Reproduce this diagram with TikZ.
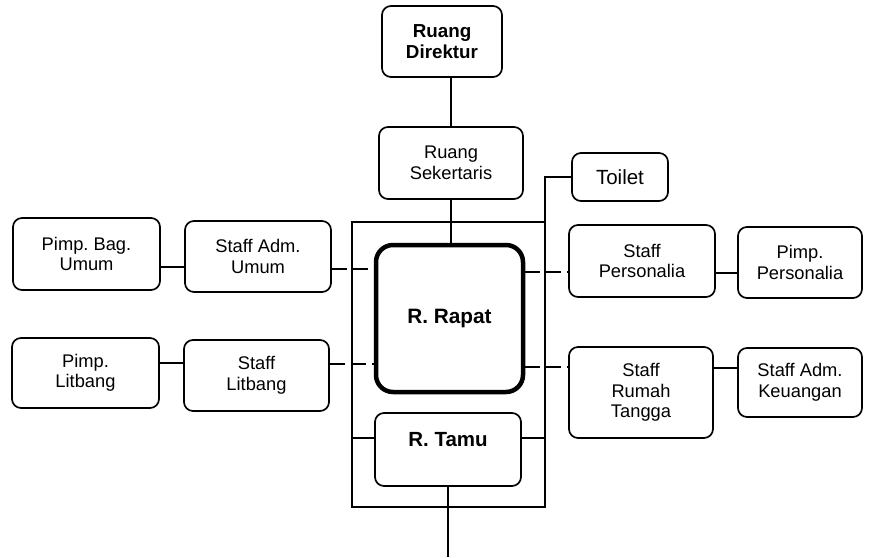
\documentclass[tikz,border=0pt]{standalone}
\usepackage{fontspec}
\setmainfont{Liberation Sans}
\usetikzlibrary{calc}
\frenchspacing
\begin{document}
\begin{tikzpicture}[x=1pt,y=-1pt,
  room/.style={draw=black,line width=1.7pt,rounded corners=9pt,align=center,
    inner sep=0pt,font=\fontsize{18.3}{20.5}\selectfont},
  bigroom/.style={room,line width=4.5pt,rounded corners=17pt},
  link/.style={line width=1.7pt},
  dlink/.style={line width=1.7pt,dash pattern=on 15pt off 6pt},
  boldtxt/.style={font=\fontsize{20.5}{23}\selectfont\bfseries}]
\useasboundingbox (0,0) rectangle (875,557);
% nodes
\node[room,minimum width=120pt,minimum height=71pt,font=\fontsize{18.8}{21}\selectfont\bfseries] (dir) at (442,41.5) {Ruang\\Direktur};
\node[room,minimum width=144pt,minimum height=72pt] (sek) at (451,163) {Ruang\\Sekertaris};
\node[room,minimum width=96pt,minimum height=48pt,font=\fontsize{20.5}{22}\selectfont] (toilet) at (620,177) {Toilet};
\node[room,minimum width=147pt,minimum height=72pt] (pbu) at (86.5,254) {Pimp. Bag.\\Umum};
\node[room,minimum width=146pt,minimum height=71pt] (sau) at (258,256.5) {Staff Adm.\\Umum};
\node[room,minimum width=146pt,minimum height=72pt] (sp) at (642,261) {Staff\\Personalia};
\node[room,minimum width=124pt,minimum height=71pt] (pp) at (800,262.5) {Pimp.\\Personalia};
\node[bigroom,minimum width=147pt,minimum height=147pt,font=\fontsize{20.8}{23}\selectfont\bfseries] (rapat) at (449.5,318.5) {R. Rapat};
\node[room,minimum width=147pt,minimum height=70pt] (pl) at (85.5,373) {Pimp.\\Litbang};
\node[room,minimum width=145pt,minimum height=71pt] (sl) at (256.5,375.5) {Staff\\Litbang};
\node[room,minimum width=144pt,minimum height=91pt] (srt) at (641,392.5) {Staff\\Rumah\\Tangga};
\node[room,minimum width=124pt,minimum height=69pt] (sak) at (800,382.5) {Staff Adm.\\Keuangan};
\node[room,minimum width=146pt,minimum height=73pt] (tamu) at (448,449.5) {};
\node[boldtxt] (tamutxt) at (448,440) {R. Tamu};
% frame coordinates
\coordinate (ftl) at (352,222);
\coordinate (ftr) at (545,222);
\coordinate (fbr) at (545,507);
\coordinate (fbl) at (352,507);
\coordinate (yT) at (0,177);
\coordinate (yA) at (0,267);
\coordinate (yAd) at (0,269);
\coordinate (yB) at (0,363);
\coordinate (yBd) at (0,364);
\coordinate (yC) at (0,272);
\coordinate (yCs) at (0,273);
\coordinate (yD) at (0,367);
\coordinate (yDs) at (0,368);
\coordinate (yTm) at (0,438);
\coordinate (bot) at (0,557);
% connectors
\draw[link] (sek.north) -- (sek.north |- dir.south);
\draw[link] (sek.south) -- (sek.south |- rapat.north);
\draw[link] (toilet.west) -- (ftr |- yT) -- (fbr) -- (fbl) -- (ftl) -- (ftr);
\draw[link] (tamu.west |- yTm) -- (ftl |- yTm);
\draw[link] (tamu.east |- yTm) -- (ftr |- yTm);
\draw[link] (tamu.south) -- (tamu.south |- bot);
\draw[link] (pbu.east |- yA) -- (sau.west |- yA);
\draw[dlink] (sau.east |- yAd) -- (rapat.west |- yAd);
\draw[link] (pl.east |- yB) -- (sl.west |- yB);
\draw[dlink] (sl.east |- yBd) -- (rapat.west |- yBd);
\draw[dlink] (rapat.east |- yC) -- (sp.west |- yC);
\draw[link] (sp.east |- yCs) -- (pp.west |- yCs);
\draw[dlink] (rapat.east |- yD) -- (srt.west |- yD);
\draw[link] (srt.east |- yDs) -- (sak.west |- yDs);
\end{tikzpicture}
\end{document}
